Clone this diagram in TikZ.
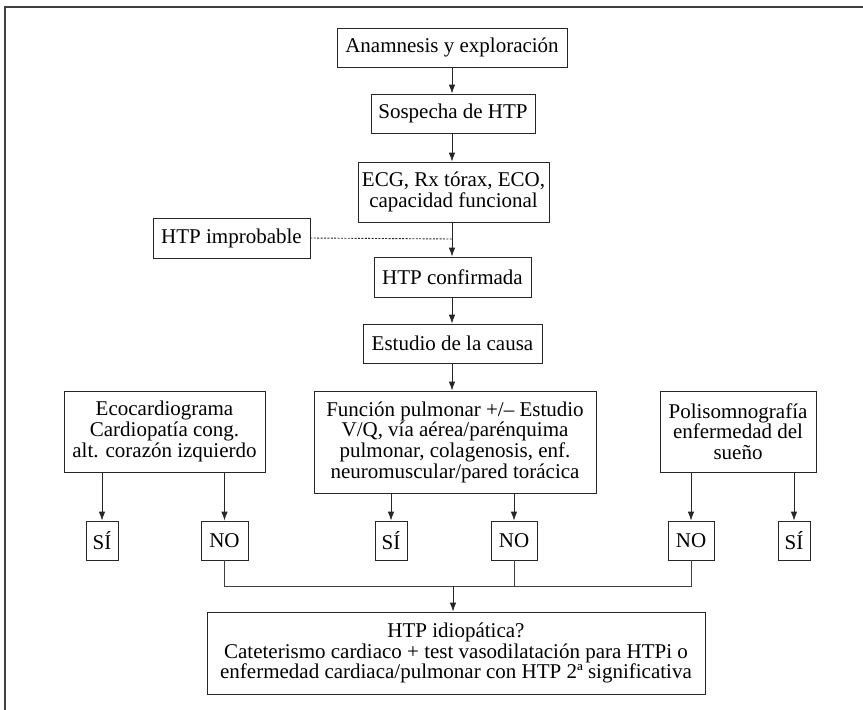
\documentclass[tikz,border=0pt]{standalone}
\usepackage{fontspec}
\setmainfont{Liberation Serif}
\usetikzlibrary{arrows.meta}
\tikzset{
  box/.style={draw=black!85, line width=0.8pt, inner sep=0pt, align=center, font=\fontsize{21}{20.7}\selectfont},
  arr/.style={draw=black!85, line width=0.8pt, -{Latex[length=9pt,width=6.5pt]}},
  ln/.style={draw=black!75, line width=0.8pt},
  dots/.style={draw=black!85, line width=0.9pt, dash pattern=on 2pt off 1.4pt},
}
\begin{document}
\begin{tikzpicture}[x=1pt,y=-1pt]
\useasboundingbox (0,0) rectangle (863,710);
\draw[black!75, line width=1.6pt] (5,710) -- (5,7) -- (863,7);
\node[box, minimum width=230pt, minimum height=39pt] (b1) at (452,47.5) {Anamnesis y exploración};
\node[box, minimum width=164pt, minimum height=39pt] (b2) at (453,113.5) {Sospecha de HTP};
\node[box, minimum width=191pt, minimum height=60pt] (b3) at (453.5,192) {ECG, Rx tórax, ECO,\\capacidad funcional};
\node[box, minimum width=157pt, minimum height=40pt] (imp) at (231.5,238) {HTP improbable};
\node[box, minimum width=157pt, minimum height=40pt] (conf) at (452.5,277) {HTP confirmada};
\node[box, minimum width=179pt, minimum height=39pt] (causa) at (452.5,343.5) {Estudio de la causa};
\node[box, minimum width=201pt, minimum height=81pt] (eco) at (164.5,431.5) {Ecocardiograma\\Cardiopatía cong.\\alt. corazón izquierdo};
\node[box, minimum width=282pt, minimum height=102pt] (fun) at (455,442) {Función pulmonar +/– Estudio\\V/Q, vía aérea/parénquima\\pulmonar, colagenosis, enf.\\neuromuscular/pared torácica};
\node[box, minimum width=156pt, minimum height=81pt] (pol) at (738,431.5) {Polisomnografía\\enfermedad del\\sueño};
\node[box, minimum width=32pt, minimum height=39pt] (s1) at (102,540.5) {SÍ};
\node[box, minimum width=47pt, minimum height=39pt] (n1) at (224.5,540.5) {NO};
\node[box, minimum width=32pt, minimum height=39pt] (s2) at (391,540.5) {SÍ};
\node[box, minimum width=46pt, minimum height=39pt] (n2) at (514,540.5) {NO};
\node[box, minimum width=46pt, minimum height=39pt] (n3) at (691,540.5) {NO};
\node[box, minimum width=32pt, minimum height=39pt] (s3) at (794,540.5) {SÍ};
\node[box, minimum width=498pt, minimum height=82pt] (fin) at (456,653) {HTP idiopática?\\Cateterismo cardiaco + test vasodilatación para HTPi o\\enfermedad cardiaca/pulmonar con HTP 2ª significativa};
\coordinate (dj) at (452,239);
\coordinate (jn) at (453,586);
\draw[arr] (b1) -- (b1 |- b2.north);
\draw[arr] (b2.south -| b1) -- (b1 |- b3.north);
\draw[arr] (b3.south -| b1) -- (b1 |- conf.north);
\draw[dots] (imp.east) -- (dj);
\draw[arr] (conf.south -| b1) -- (b1 |- causa.north);
\draw[arr] (causa.south -| b1) -- (b1 |- fun.north);
\draw[arr] (s1 |- eco.south) -- (s1);
\draw[arr] (n1 |- eco.south) -- (n1);
\draw[arr] (s2 |- fun.south) -- (s2);
\draw[arr] (n2 |- fun.south) -- (n2);
\draw[arr] (n3 |- pol.south) -- (n3);
\draw[arr] (s3 |- pol.south) -- (s3);
\draw[ln] (n1.south) -- (n1 |- jn) -- (n3 |- jn) -- (n3.south);
\draw[ln] (n2.south) -- (n2 |- jn);
\draw[arr] (jn) -- (jn |- fin.north);
\end{tikzpicture}
\end{document}
